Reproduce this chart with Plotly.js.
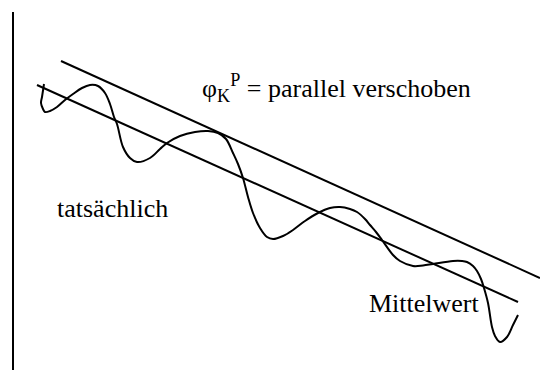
<!DOCTYPE html>
<html>
<head>
<meta charset="utf-8">
<script src="https://cdn.plot.ly/plotly-3.0.1.min.js"></script>
<style>html,body{margin:0;padding:0;background:#fff;}#chart{width:540px;height:370px;}</style>
</head>
<body>
<div id="chart"></div>
<script>
// Curve "tatsächlich" (horizontal position, height above bottom edge)
const actualX = [44, 42, 41, 43, 45, 50, 57, 65, 73, 82, 90, 98, 105, 110, 114, 117, 123, 130, 137, 150, 160, 167, 180, 195, 208, 218, 226, 233, 238, 243, 248, 253, 260, 267, 273, 283, 293, 305, 318, 330, 340, 350, 357, 365, 370, 376, 382, 393, 400, 413, 423, 433, 453, 462, 467, 473, 477, 481, 484, 488, 492, 495, 500, 507, 513, 518];
const actualY = [286, 273, 267, 261, 258, 259, 263, 270, 276, 282, 285, 284, 277, 266, 253, 246, 223, 212, 208, 212, 221, 227, 234, 238, 239, 237, 231, 217, 206, 192, 173, 157, 142, 133, 131, 134, 140, 149, 157, 162, 163, 161, 158, 151, 145, 138, 130, 115, 109, 104, 104.5, 106, 109, 109, 108, 104, 99, 91, 82, 67, 43, 34, 28, 33, 45, 55];
// Straight line "Mittelwert"
const meanX = [37, 518];
const meanY = [285, 68];
// Straight line "parallel verschoben"
const shiftedX = [61, 540];
const shiftedY = [309, 92];

const lineStyle = {color: '#000', width: 2};
const traces = [
  {x: actualX, y: actualY, mode: 'lines', line: Object.assign({shape: 'spline', smoothing: 1}, lineStyle), hoverinfo: 'skip'},
  {x: meanX, y: meanY, mode: 'lines', line: lineStyle, hoverinfo: 'skip'},
  {x: shiftedX, y: shiftedY, mode: 'lines', line: lineStyle, hoverinfo: 'skip'}
];
const font = {family: 'Liberation Serif, Times New Roman, serif', size: 26, color: '#000'};
const layout = {
  width: 540, height: 370,
  margin: {l: 14, r: 0, t: 12, b: 0, pad: 0},
  paper_bgcolor: '#fff', plot_bgcolor: '#fff',
  showlegend: false,
  xaxis: {range: [14, 540], showgrid: false, zeroline: false, showticklabels: false, ticks: '', showline: false, fixedrange: true},
  yaxis: {range: [0, 358], showgrid: false, zeroline: false, showticklabels: false, ticks: '', showline: true, linecolor: '#000', linewidth: 2, fixedrange: true},
  annotations: [
    {x: 200, y: 282, xref: 'x', yref: 'y', xanchor: 'left', yanchor: 'middle', showarrow: false, font: font,
     text: 'φ<sub>K</sub><sup>P</sup> = parallel verschoben'},
    {x: 55, y: 162, xref: 'x', yref: 'y', xanchor: 'left', yanchor: 'middle', showarrow: false, font: font, text: 'tatsächlich'},
    {x: 367, y: 67, xref: 'x', yref: 'y', xanchor: 'left', yanchor: 'middle', showarrow: false, font: font, text: 'Mittelwert'}
  ]
};
Plotly.newPlot('chart', traces, layout, {staticPlot: true, displayModeBar: false});
</script>
</body>
</html>
